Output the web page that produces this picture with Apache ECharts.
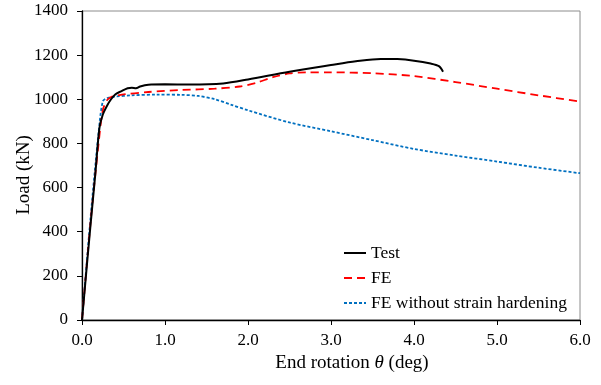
<!DOCTYPE html>
<html><head><meta charset="utf-8">
<script src="https://cdn.jsdelivr.net/npm/echarts@6/dist/echarts.min.js"></script>
<style>html,body{margin:0;padding:0;background:#fff}#c{width:601px;height:385px}</style>
</head><body><div id="c"></div>
<script>
const xTicks = [0, 1, 2, 3, 4, 5, 6];
const yTicks = [0, 200, 400, 600, 800, 1000, 1200, 1400];
const seriesNames = ['Test', 'FE', 'FE without strain hardening'];
const testData = [[0,0],[0.1,420],[0.16,660],[0.21,870],[0.25,930],[0.3,970],[0.35,1000],[0.4,1022],[0.47,1036],[0.55,1050],[0.6,1052],[0.65,1050],[0.7,1058],[0.8,1066],[1.0,1068],[1.3,1067],[1.7,1072],[2.0,1090],[2.5,1125],[3.0,1155],[3.3,1172],[3.6,1183],[3.8,1182],[4.0,1175],[4.2,1162],[4.3,1150],[4.35,1125]];
const feData = [[0,0],[0.1,430],[0.2,800],[0.25,950],[0.3,995],[0.35,1010],[0.5,1022],[0.8,1033],[1.2,1042],[1.6,1048],[1.9,1058],[2.1,1075],[2.3,1100],[2.5,1117],[2.7,1122],[3.0,1122],[3.5,1118],[4.0,1105],[4.5,1078],[5.0,1048],[5.5,1018],[6.0,990]];
const feNoHardData = [[0,0],[0.1,450],[0.2,850],[0.25,990],[0.3,1005],[0.4,1012],[0.6,1018],[0.9,1021],[1.2,1020],[1.4,1015],[1.6,1000],[1.8,975],[2.0,950],[2.5,895],[3.0,855],[3.5,815],[4.0,775],[4.5,745],[5.0,718],[5.5,690],[6.0,665]];

const font = '"Liberation Serif", "Times New Roman", serif';
const chart = echarts.init(document.getElementById('c'), null, {renderer: 'canvas'});
chart.setOption({
  animation: false,
  textStyle: {fontFamily: font, color: '#000'},
  grid: {left: 82, right: 21, top: 11, bottom: 65, outerBoundsMode: 'none', containLabel: false, show: true, borderColor: '#8c8c8c', borderWidth: 1},
  xAxis: {
    type: 'value', min: xTicks[0], max: xTicks[xTicks.length-1], interval: 1,
    axisLine: {onZero: false, lineStyle: {color: '#000', width: 1.3}},
    axisTick: {length: 5, lineStyle: {color: '#000'}},
    splitLine: {show: false},
    axisLabel: {margin: 12, fontSize: 17, fontFamily: font, color: '#000', formatter: v => v.toFixed(1)}
  },
  yAxis: {
    type: 'value', min: yTicks[0], max: yTicks[yTicks.length-1], interval: 200,
    axisLine: {show: true, onZero: false, lineStyle: {color: '#000', width: 1.3}},
    axisTick: {show: true, length: 5, lineStyle: {color: '#000'}},
    splitLine: {show: false},
    axisLabel: {margin: 14, fontSize: 17, fontFamily: font, color: '#000', formatter: v => String(v)}
  },
  legend: {
    orient: 'vertical', left: 338, top: 239, itemGap: 7, itemWidth: 22, itemHeight: 14,
    itemStyle: {opacity: 0},
    textStyle: {fontSize: 17.5, fontFamily: font, color: '#000'},
    data: seriesNames
  },
  graphic: [{
    type: 'text', z: 10,
    style: {
      x: 352, y: 363, align: 'center', verticalAlign: 'middle',
      text: '{n|End rotation }{i|θ}{n| (deg)}',
      rich: {
        n: {fontSize: 19, fontFamily: font, fill: '#000'},
        i: {fontSize: 19, fontFamily: font, fontStyle: 'italic', fill: '#000'}
      }
    }
  }, {
    type: 'text', z: 10, x: 24, y: 175, rotation: Math.PI / 2,
    style: {
      x: 0, y: 0, align: 'center', verticalAlign: 'middle',
      text: 'Load (kN)', fontSize: 19, fontFamily: font, fill: '#000'
    }
  }],
  series: [
    {name: seriesNames[0], type: 'line', data: testData, symbol: 'none', smooth: 0.3, lineStyle: {color: '#000', width: 2}, itemStyle: {color: '#000'}, z: 3},
    {name: seriesNames[1], type: 'line', data: feData, symbol: 'none', smooth: 0.3, lineStyle: {color: '#ff0000', width: 1.8, type: [8,5]}, itemStyle: {color: '#ff0000'}, z: 2},
    {name: seriesNames[2], type: 'line', data: feNoHardData, symbol: 'none', smooth: 0.3, lineStyle: {color: '#0070c0', width: 1.8, type: [3,2]}, itemStyle: {color: '#0070c0'}, z: 1}
  ]
});
</script></body></html>
